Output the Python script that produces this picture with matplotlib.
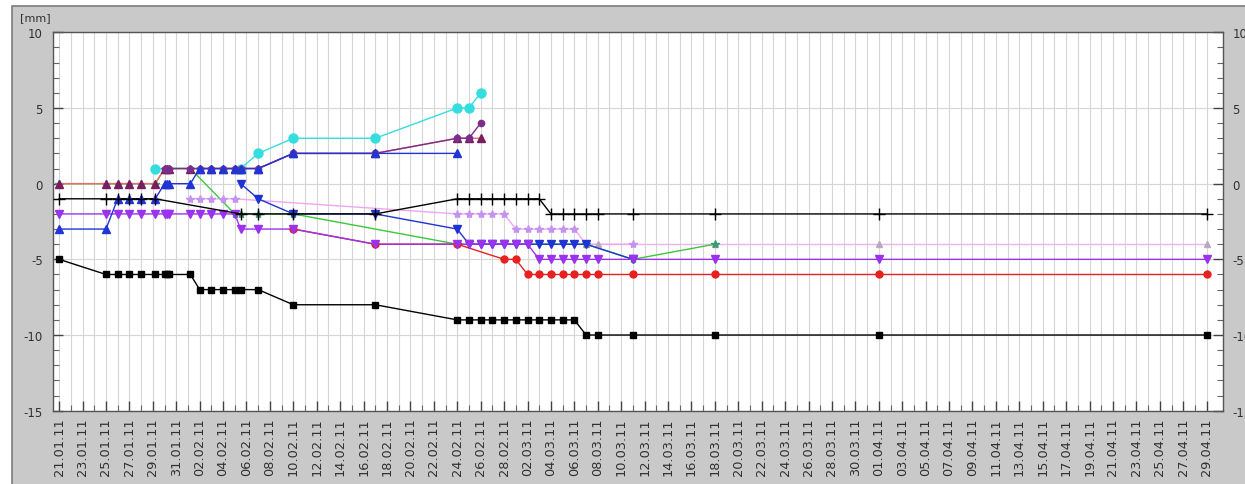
import matplotlib
matplotlib.use("Agg")
import matplotlib.pyplot as plt
import matplotlib.dates as mdates
from matplotlib.patches import Rectangle
from matplotlib.ticker import FixedLocator, MultipleLocator
from matplotlib.transforms import ScaledTranslation
from datetime import datetime, timedelta

plt.rcParams["axes.unicode_minus"] = False

# measurement epochs (index shared by all gauges)
epochs = ["21.01.11", "25.01.11", "26.01.11", "27.01.11", "28.01.11",
          "29.01.11 05:00", "30.01.11", "30.01.11 05:00", "30.01.11 10:00",
          "01.02.11 05:00", "02.02.11", "03.02.11", "04.02.11", "05.02.11",
          "05.02.11 12:00", "07.02.11", "10.02.11", "17.02.11", "24.02.11",
          "25.02.11", "26.02.11", "27.02.11", "28.02.11", "01.03.11",
          "02.03.11", "03.03.11", "04.03.11", "05.03.11", "06.03.11",
          "07.03.11", "08.03.11", "11.03.11", "18.03.11", "01.04.11",
          "29.04.11"]

N = None
# readings in mm, one value per epoch (None = not measured)
gauge_black_sq = [-5, -6, -6, -6, -6, -6, -6, -6, -6, -6, -7, -7, -7, -7, -7, -7,
                  -8, -8, -9, -9, -9, -9, -9, -9, -9, -9, -9, -9, -9,
                  -10, -10, -10, -10, -10, -10]
gauge_black_plus = [-1, -1, -1, -1, -1, -1, N, N, N, N, N, N, N, N, -2, -2,
                    -2, -2, -1, -1, -1, -1, -1, -1, -1, -1, -2, -2, -2,
                    -2, -2, -2, -2, -2, -2]
gauge_violet = [-2, -2, -2, -2, -2, -2, -2, -2, -2, -2, -2, -2, -2, -2, -3, -3,
                -3, -4, -4, -4, -4, -4, -4, -4, -4, -5, -5, -5, -5,
                -5, -5, -5, -5, -5, -5]
gauge_blue_up = [-3, -3, -1, -1, -1, -1, 0, 0, 0, 0, 1, 1, 1, 1, 1, 1,
                 2, 2, 2, N, N, N, N, N, N, N, N, N, N,
                 N, N, N, N, N, N]
gauge_blue_down = [N, N, N, N, N, N, N, N, N, N, N, N, N, N, 0, -1,
                   -2, -2, -3, -4, -4, -4, -4, -4, -4, -4, -4, -4, -4,
                   -4, N, -5, N, N, N]
gauge_red = [N, N, N, N, N, N, N, N, N, N, N, N, N, N, N, N,
             -3, -4, -4, N, N, N, -5, -5, -6, -6, -6, -6, -6,
             -6, -6, -6, -6, -6, -6]
gauge_cyan = [N, N, N, N, N, 1, N, N, N, N, N, N, N, N, 1, 2,
              3, 3, 5, 5, 6, N, N, N, N, N, N, N, N,
              N, N, N, N, N, N]
gauge_magenta = [0, 0, 0, 0, 0, 0, 1, 1, 1, 1, 1, 1, 1, 1, 1, 1,
                 2, 2, 3, 3, 3, N, N, N, N, N, N, N, N,
                 N, N, N, N, N, N]
gauge_purple = [N, N, N, N, N, N, 1, 1, 1, 1, 1, 1, 1, 1, 1, 1,
                2, 2, 3, 3, 4, N, N, N, N, N, N, N, N,
                N, N, N, N, N, N]
gauge_green = [0, 0, 0, 0, 0, 0, 1, 1, 1, 1, N, N, N, -2, -2, -2,
               -2, N, -4, N, N, N, N, N, N, N, N, N, N,
               -4, N, -5, -4, N, N]
gauge_lilac = [N, N, N, N, N, N, N, N, N, -1, -1, -1, -1, -1, N, N,
               N, N, -2, -2, -2, -2, -2, -3, -3, -3, -3, -3, -3,
               -4, N, -4, N, N, N]
gauge_grey = [N, N, N, N, N, N, N, N, N, N, N, N, N, N, N, N,
              N, N, N, N, N, N, N, N, N, N, N, N, N,
              -4, -4, N, -4, -4, -4]


def parse(s):
    fmt = "%d.%m.%y %H:%M" if " " in s else "%d.%m.%y"
    return datetime.strptime(s, fmt)


times = [parse(s) for s in epochs]

W, H = 1245, 485
fig = plt.figure(figsize=(W / 100, H / 100), dpi=100)
fig.patch.set_facecolor("white")

# grey panel framing the chart
fig.patches.append(Rectangle((12 / W, -0.05), 1.0, 1 - 7 / H + 0.05,
                             transform=fig.transFigure, facecolor="#c9c9c9",
                             edgecolor="#7c7c7c", linewidth=1.2, zorder=-10))

ax = fig.add_axes([52.7 / W, 1 - 411.7 / H, (1222.7 - 52.7) / W, (411.7 - 33.3) / H])
ax.set_facecolor("white")


def draw(values, color, marker, line=None, ms=5, mfc=None, z=3, mew=1.0):
    pts = [(t, v) for t, v in zip(times, values) if v is not None]
    xs = [p[0] for p in pts]
    ys = [p[1] for p in pts]
    ax.plot(xs, ys, color=line or color, lw=1.0, zorder=z)
    ax.plot(xs, ys, linestyle="none", marker=marker, ms=ms,
            color=mfc or color, markeredgecolor=mfc or color, mew=mew, zorder=z + 0.5)


draw(gauge_grey, "#b9a9bd", "^", line="#eab4ee", ms=5, z=2)
draw(gauge_lilac, "#c592f0", "*", line="#f2a6f2", ms=6, z=2.2)
draw(gauge_green, "#3b9b78", "*", line="#39c939", ms=6, z=2.4)
draw(gauge_cyan, "#35dede", "o", ms=6.5, z=2.6)
draw(gauge_red, "#e82020", "o", ms=5, z=3)
draw(gauge_blue_down, "#1f33d4", "v", ms=6, z=3.2)
draw(gauge_violet, "#9a32ee", "v", ms=6, z=3.4)
draw(gauge_magenta, "#7a1d5e", "^", line="#f06a6a", ms=5.5, z=3.6)
draw(gauge_purple, "#7b2d8b", "o", ms=4.5, z=3.7)
draw(gauge_blue_up, "#2134d6", "^", ms=5.5, z=3.8)
draw(gauge_black_plus, "black", "+", ms=8, z=4)
draw(gauge_black_sq, "black", "s", ms=4.8, z=4.2)

# axes ranges
start = parse("21.01.11")
end = parse("29.04.11")
ax.set_xlim(mdates.date2num(start) - 0.55, mdates.date2num(end) + 1.37)
ax.set_ylim(-15, 10)

# date ticks: label every second day, tick and grid every day
n_days = (end - start).days
day_ticks = [start + timedelta(days=i) for i in range(n_days + 1)]
label_ticks = day_ticks[::2]
tick_labels = [d.strftime("%d.%m.%y") for d in label_ticks]
ax.xaxis.set_major_locator(FixedLocator(mdates.date2num(label_ticks)))
ax.xaxis.set_minor_locator(FixedLocator(mdates.date2num(day_ticks)))
ax.set_xticklabels(tick_labels, rotation=90, fontsize=9.3, color="#303030")
for lbl in ax.get_xticklabels():
    lbl.set_transform(lbl.get_transform() + ScaledTranslation(-4 / 100, 0, fig.dpi_scale_trans))

ax.yaxis.set_major_locator(MultipleLocator(5))
ax.yaxis.set_minor_locator(MultipleLocator(1))

ax.tick_params(axis="x", which="major", direction="in", length=7, width=1,
               color="#444444", pad=5, top=False)
ax.tick_params(axis="x", which="minor", direction="in", length=4, width=0.8,
               color="#666666", top=False)
ax.tick_params(axis="y", which="major", direction="in", length=7, width=1,
               color="#444444", left=True, right=True, labelleft=True,
               labelright=True, labelsize=8.5, labelcolor="#303030", pad=7)
ax.tick_params(axis="y", which="minor", direction="in", length=4, width=0.8,
               color="#666666", left=True, right=True)

ax.grid(which="both", axis="x", color="#d6d6d6", linewidth=0.8, zorder=0)
ax.grid(which="major", axis="y", color="#d6d6d6", linewidth=0.8, zorder=0)
ax.set_axisbelow(True)

for side in ("left", "bottom", "right", "top"):
    ax.spines[side].set_color("#555555")
    ax.spines[side].set_linewidth(1.0)

fig.text(20 / W, 1 - 18 / H, "[mm]", fontsize=8, color="#303030", va="center", ha="left")

fig.savefig("out.png", dpi=100, facecolor=fig.get_facecolor())
